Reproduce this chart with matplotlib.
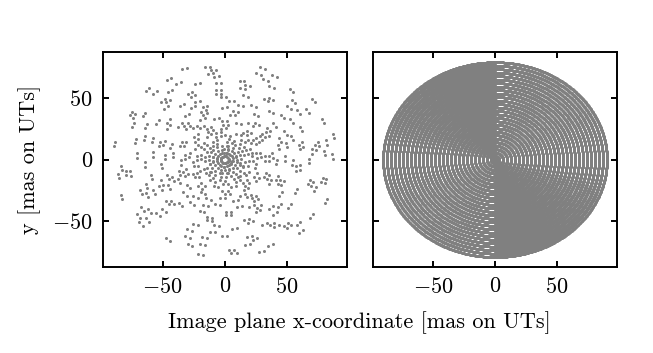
import numpy as np
import matplotlib
matplotlib.use("Agg")
import matplotlib.pyplot as plt

plt.rcParams.update({
    "font.family": "serif",
    "font.serif": ["cmr10", "DejaVu Serif"],
    "mathtext.fontset": "cm",
    "axes.formatter.use_mathtext": True,
    "font.size": 8,
    "axes.linewidth": 0.7,
    "xtick.direction": "in",
    "ytick.direction": "in",
    "xtick.top": True,
    "ytick.right": True,
    "xtick.major.size": 2.0,
    "ytick.major.size": 2.0,
    "xtick.major.width": 0.7,
    "ytick.major.width": 0.7,
})

# ---- data ----
ring_index = np.arange(1, 29)            # 28 concentric tracks
semi_axis_x = 3.22                       # mas per track, x direction
semi_axis_y = 2.82                       # mas per track, y direction
pairs_per_ring = 12                      # sampled pairs per track (left panel)
ring_phase_deg = [12, 57, 203, 141, 318, 77, 259, 34, 176, 292, 118, 5, 233,
                  161, 84, 307, 22, 198, 133, 271, 49, 215, 102, 336, 67, 249,
                  150, 283]              # starting angle of each track's samples
dense_sectors_deg = [(90, 175), (270, 355)]  # overlapping track sectors (right panel)
x_ticks = [-50, 0, 50]
y_ticks = [-50, 0, 50]
x_limits = (-98.5, 98.5)
y_limits = (-87.0, 87.0)
point_color = "#808080"

# left panel: sparse samples (pairs) along tracks
lx, ly = [], []
for k, ph in zip(ring_index, ring_phase_deg):
    j = np.arange(pairs_per_ring)
    base = np.deg2rad(ph) + 2 * np.pi * j / pairs_per_ring
    jitter = np.deg2rad(11.0) * np.sin(2.9 * k + j * 2.3) * np.cos(1.7 * j + k)
    sep = np.deg2rad(2.6 * 28.0 / max(k, 4))
    for d in (0.0, sep):
        th = base + jitter + d
        lx.append(k * semi_axis_x * np.cos(th))
        ly.append(k * semi_axis_y * np.sin(th))
lx = np.concatenate(lx)
ly = np.concatenate(ly)

# right panel: dense tracks
rx, ry = [], []
for k in ring_index:
    n = int(60 + 40 * k)
    th = np.linspace(0, 2 * np.pi, n, endpoint=False)
    rx.append(k * semi_axis_x * np.cos(th))
    ry.append(k * semi_axis_y * np.sin(th))
    if k == ring_index[-1]:
        continue
    for a0, a1 in dense_sectors_deg:
        thd = np.deg2rad(np.linspace(a0, a1, max(int(n * (a1 - a0) / 360), 5)))
        off = 0.5 * (1 - (np.rad2deg(thd) - a0) / (a1 - a0))
        rx.append((k + off) * semi_axis_x * np.cos(thd))
        ry.append((k + off) * semi_axis_y * np.sin(thd))
# central filling
for r in (0.0, 0.5):
    th = np.linspace(0, 2 * np.pi, 12, endpoint=False)
    rx.append(r * semi_axis_x * np.cos(th))
    ry.append(r * semi_axis_y * np.sin(th))
rx = np.concatenate(rx)
ry = np.concatenate(ry)

fig = plt.figure(figsize=(6.53 / 2, 3.53 / 2), dpi=200)
W, H = 653.0, 353.0
ax1 = fig.add_axes([102.5 / W, 1 - 267 / H, 244.5 / W, 214.7 / H])
ax2 = fig.add_axes([372.7 / W, 1 - 267 / H, 244.6 / W, 214.7 / H])

ax1.scatter(lx, ly, s=1.2, c=point_color, linewidths=0)
ax2.scatter(rx, ry, s=1.0, c=point_color, linewidths=0)

for ax in (ax1, ax2):
    ax.set_xlim(*x_limits)
    ax.set_ylim(*y_limits)
    ax.set_xticks(x_ticks)
    ax.set_yticks(y_ticks)
ax2.set_yticklabels([])

ax1.set_ylabel("y [mas on UTs]")
fig.text(359 / W, 1 - 323 / H, "Image plane x-coordinate [mas on UTs]",
         ha="center", va="center")

fig.savefig("out.png", dpi=200)
